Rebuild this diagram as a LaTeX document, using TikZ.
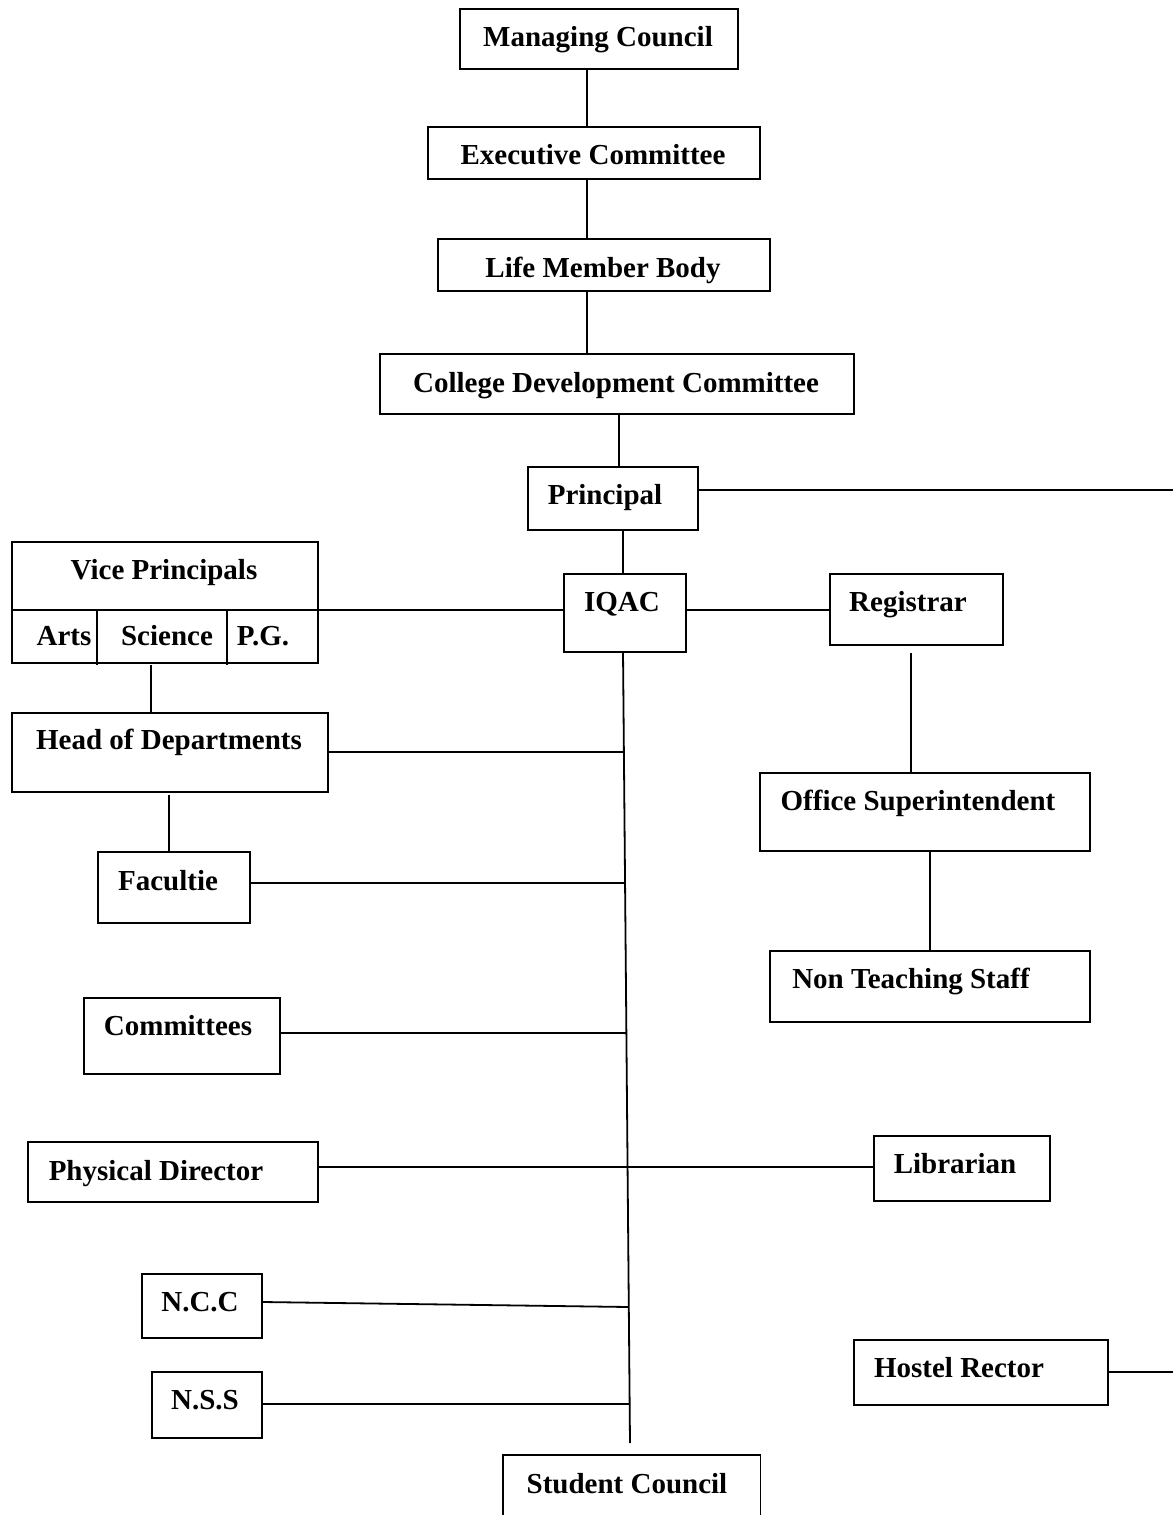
\documentclass[tikz,border=0pt]{standalone}
\usepackage{fontspec}
\setmainfont{Liberation Serif}
\begin{document}
\begin{tikzpicture}[x=1pt,y=-1pt,
  box/.style={draw, line width=1.8pt, inner sep=0pt},
  txt/.style={font=\fontsize{29}{34}\selectfont\bfseries, inner sep=0pt, anchor=mid, yshift=-7pt},
  ln/.style={line width=1.8pt}]
\useasboundingbox (0,0) rectangle (1173,1515);
\newcommand\orgbox[5]{\node[box, anchor=north west, minimum width={#4-#2}, minimum height={#5-#3}] (#1) at (#2,#3) {};}
% boxes
\orgbox{mc}{459}{8}{737}{68}
\orgbox{ec}{427}{126}{759}{178}
\orgbox{lmb}{437}{238}{769}{290}
\orgbox{cdc}{379}{353}{853}{413}
\orgbox{pr}{527}{466}{697}{529}
\orgbox{iqac}{563}{573}{685}{651}
\orgbox{reg}{829}{573}{1002}{644}
\orgbox{vp}{11}{541}{317}{662}
\orgbox{hod}{11}{712}{327}{791}
\orgbox{fac}{97}{851}{249}{922}
\orgbox{com}{83}{997}{279}{1073}
\orgbox{pd}{27}{1141}{317}{1201}
\orgbox{ncc}{141}{1273}{261}{1337}
\orgbox{nss}{151}{1371}{261}{1437}
\orgbox{os}{759}{772}{1089}{850}
\orgbox{nts}{769}{950}{1089}{1021}
\orgbox{lib}{873}{1135}{1049}{1200}
\orgbox{hr}{853}{1339}{1107}{1404}
\node[inner sep=0pt, anchor=north west, minimum width=257, minimum height=60] (sc) at (503,1455) {};
\draw[ln] (sc.south west) -- (sc.north west) -- (sc.north east) -- (sc.south east);
% vice principal subdivisions
\draw[ln] (vp.west |- 0,610) -- (vp.east |- 0,610);
\draw[ln] (97,610) -- (97,665);
\draw[ln] (227,610) -- (227,665);
% texts
\node[txt] (mct) at (598,37) {Managing Council};
\node[txt] (ect) at (593,155) {Executive Committee};
\node[txt] (lmbt) at (603,268) {Life Member Body};
\node[txt] (cdct) at (616,383) {College Development Committee};
\node[txt] (prt) at (605,495) {Principal};
\node[txt] (iqact) at (622,602) {IQAC};
\node[txt] (regt) at (908,602) {Registrar};
\node[txt] (vpt) at (164,570) {Vice Principals};
\node[txt] (artst) at (64,636) {Arts};
\node[txt] (scit) at (167,636) {Science};
\node[txt] (pgt) at (263,636) {P.G.};
\node[txt] (hodt) at (169,740) {Head of Departments};
\node[txt] (fact) at (168,881) {Facultie};
\node[txt] (comt) at (178,1026) {Committees};
\node[txt] (pdt) at (156,1171) {Physical Director};
\node[txt] (ncct) at (200,1302) {N.C.C};
\node[txt] (nsst) at (205,1400) {N.S.S};
\node[txt] (sct) at (627,1484) {Student Council};
\node[txt] (ost) at (918,801) {Office Superintendent};
\node[txt] (ntst) at (911,979) {Non Teaching Staff};
\node[txt] (libt) at (955,1164) {Librarian};
\node[txt] (hrt) at (959,1368) {Hostel Rector};
% helper coordinates
\coordinate (xa) at (587,0);
\coordinate (xb) at (619,0);
\coordinate (xc) at (623,0);
\coordinate (xd) at (151,0);
\coordinate (xe) at (169,0);
\coordinate (xf) at (911,0);
\coordinate (xg) at (930,0);
\coordinate (prend) at (1173,490);
\coordinate (hrend) at (1173,1372);
\coordinate (spinetop) at (623,651);
\coordinate (spinebot) at (630,1443);
\coordinate (s1) at (624,752);
\coordinate (s2) at (625,883);
\coordinate (s3) at (626,1033);
\coordinate (s4) at (627.6,1167);
\coordinate (s5) at (628.8,1307);
\coordinate (s6) at (629.6,1404);
% connectors
\draw[ln] (xa |- mc.south) -- (xa |- ec.north);
\draw[ln] (xa |- ec.south) -- (xa |- lmb.north);
\draw[ln] (xa |- lmb.south) -- (xa |- cdc.north);
\draw[ln] (xb |- cdc.south) -- (xb |- pr.north);
\draw[ln] (pr.east |- prend) -- (prend);
\draw[ln] (xc |- pr.south) -- (xc |- iqac.north);
\draw[ln] (vp.east |- 0,610) -- (iqac.west |- 0,610);
\draw[ln] (iqac.east |- 0,610) -- (reg.west |- 0,610);
\draw[ln] (xd |- 0,665) -- (xd |- hod.north);
\draw[ln] (spinetop) -- (spinebot);
\draw[ln] (hod.east |- s1) -- (s1);
\draw[ln] (xe |- 0,795) -- (xe |- fac.north);
\draw[ln] (fac.east |- s2) -- (s2);
\draw[ln] (com.east |- s3) -- (s3);
\draw[ln] (pd.east |- s4) -- (s4);
\draw[ln] (s4) -- (lib.west |- s4);
\draw[ln] (ncc.east |- 0,1302) -- (s5);
\draw[ln] (nss.east |- s6) -- (s6);
\draw[ln] (xf |- 0,653) -- (xf |- os.north);
\draw[ln] (xg |- os.south) -- (xg |- nts.north);
\draw[ln] (hr.east |- hrend) -- (hrend);
\end{tikzpicture}
\end{document}
